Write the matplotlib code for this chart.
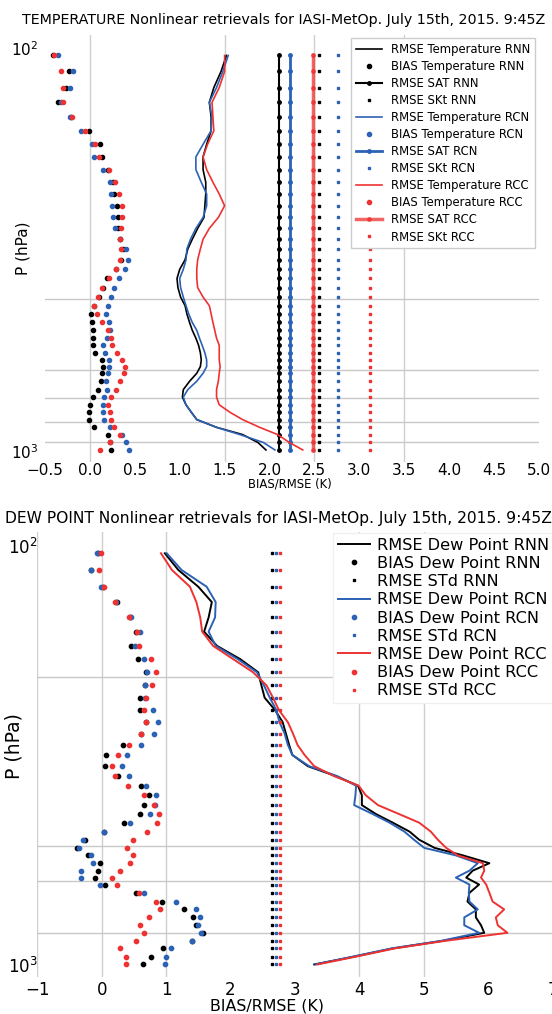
import matplotlib
matplotlib.use('Agg')
import matplotlib.pyplot as plt
from matplotlib.ticker import NullFormatter

BLUE = '#2c62b5'
RED = '#ee3232'

# pressure levels (hPa), shared by both panels
pressure = [104, 114, 125, 136, 148, 160, 173, 186, 200, 215, 230, 246, 263, 280,
            298, 315, 335, 354, 373, 393, 415, 436, 457, 480, 502, 525, 547, 571,
            595, 618, 642, 672, 705, 736, 769, 803, 837, 875, 912, 954, 996]

# ---- temperature panel ----
rmse_t_rnn = [1.52, 1.46, 1.38, 1.33, 1.35, 1.35, 1.30, 1.26, 1.26, 1.29, 1.29, 1.28, 1.27, 1.20,
              1.14, 1.09, 1.06, 1.00, 0.97, 0.98, 1.01, 1.06, 1.08, 1.11, 1.14, 1.18, 1.21, 1.23,
              1.24, 1.23, 1.19, 1.11, 1.04, 1.03, 1.07, 1.13, 1.19, 1.41, 1.70, 1.87, 1.96]
rmse_t_rcn = [1.54, 1.48, 1.41, 1.33, 1.36, 1.35, 1.26, 1.18, 1.18, 1.24, 1.30, 1.30, 1.26, 1.18,
              1.12, 1.08, 1.07, 1.04, 1.00, 1.01, 1.04, 1.07, 1.10, 1.14, 1.19, 1.22, 1.25, 1.28,
              1.30, 1.30, 1.26, 1.19, 1.09, 1.04, 1.07, 1.13, 1.19, 1.41, 1.67, 1.93, 2.06]
rmse_t_rcc = [1.50, 1.50, 1.44, 1.36, 1.37, 1.38, 1.31, 1.26, 1.30, 1.37, 1.44, 1.50, 1.43, 1.33,
              1.26, 1.23, 1.20, 1.19, 1.19, 1.20, 1.26, 1.33, 1.35, 1.37, 1.39, 1.41, 1.44, 1.44,
              1.44, 1.45, 1.44, 1.43, 1.41, 1.41, 1.44, 1.56, 1.70, 1.89, 2.09, 2.22, 2.37]
bias_t_rnn = [-0.41, -0.23, -0.27, -0.35, -0.21, -0.01, 0.11, 0.14, 0.20, 0.26, 0.27, 0.30, 0.31, 0.31,
              0.34, 0.37, 0.35, 0.29, 0.19, 0.15, 0.10, 0.05, 0.01, 0.02, 0.04, 0.04, 0.03, 0.06,
              0.13, 0.15, 0.14, 0.12, 0.09, 0.03, 0.00, -0.01, -0.01, 0.05, 0.20, 0.22, 0.24]
bias_t_rcn = [-0.36, -0.19, -0.22, -0.32, -0.22, -0.10, 0.02, 0.05, 0.15, 0.22, 0.23, 0.25, 0.26, 0.28,
              0.33, 0.40, 0.42, 0.39, 0.32, 0.27, 0.24, 0.20, 0.18, 0.21, 0.22, 0.19, 0.15, 0.17,
              0.21, 0.21, 0.20, 0.18, 0.19, 0.16, 0.15, 0.15, 0.16, 0.22, 0.36, 0.40, 0.44]
bias_t_rcc = [-0.40, -0.32, -0.30, -0.30, -0.20, -0.05, 0.06, 0.10, 0.21, 0.28, 0.32, 0.36, 0.36, 0.35,
              0.34, 0.35, 0.33, 0.29, 0.21, 0.14, 0.09, 0.05, 0.08, 0.13, 0.20, 0.23, 0.25, 0.30,
              0.36, 0.39, 0.38, 0.34, 0.29, 0.23, 0.20, 0.22, 0.23, 0.27, 0.33, 0.22, 0.11]
sat_rnn, sat_rcn, sat_rcc = 2.10, 2.23, 2.48
skt_rnn, skt_rcn, skt_rcc = 2.55, 2.76, 3.12

# ---- dew point panel ----
rmse_d_rnn = [0.98, 1.19, 1.50, 1.71, 1.66, 1.59, 1.79, 2.15, 2.43, 2.48, 2.53, 2.69, 2.81, 2.86,
              2.91, 2.96, 3.20, 3.64, 3.98, 4.04, 4.04, 4.26, 4.52, 4.78, 4.93, 5.17, 5.61, 6.02,
              5.76, 5.66, 5.86, 5.71, 5.68, 5.81, 5.81, 5.89, 5.94, 5.29, 4.52, 3.92, 3.30]
rmse_d_rcn = [1.01, 1.24, 1.63, 1.77, 1.76, 1.66, 1.77, 2.11, 2.41, 2.52, 2.61, 2.71, 2.76, 2.84,
              2.89, 2.96, 3.22, 3.66, 3.95, 3.94, 3.92, 4.21, 4.47, 4.70, 4.85, 5.01, 5.50, 5.84,
              5.71, 5.50, 5.71, 5.70, 5.71, 5.84, 5.63, 5.63, 5.86, 5.27, 4.50, 3.90, 3.32]
rmse_d_rcc = [0.92, 1.09, 1.37, 1.47, 1.53, 1.56, 1.73, 2.04, 2.35, 2.56, 2.66, 2.75, 2.89, 2.97,
              3.04, 3.15, 3.30, 3.61, 3.99, 4.10, 4.29, 4.62, 4.93, 5.11, 5.22, 5.35, 5.53, 5.92,
              5.94, 5.89, 5.97, 6.02, 6.07, 6.25, 6.12, 6.15, 6.30, 5.33, 4.55, 3.95, 3.35]
bias_d_rnn = [-0.05, -0.16, 0.02, 0.24, 0.44, 0.53, 0.45, 0.56, 0.69, 0.67, 0.59, 0.59, 0.68, 0.61,
              0.33, 0.06, 0.05, 0.26, 0.61, 0.74, 0.65, 0.59, 0.35, 0.03, -0.26, -0.39, -0.22, -0.02,
              -0.06, -0.10, 0.05, 0.54, 0.94, 1.28, 1.42, 1.47, 1.57, 1.40, 0.95, 0.77, 0.64]
bias_d_rcn = [-0.08, -0.17, -0.01, 0.22, 0.45, 0.59, 0.52, 0.66, 0.71, 0.67, 0.67, 0.79, 0.87, 0.81,
              0.61, 0.39, 0.32, 0.42, 0.68, 0.85, 0.83, 0.75, 0.44, 0.03, -0.29, -0.35, -0.17, -0.14,
              -0.32, -0.32, -0.03, 0.66, 1.15, 1.46, 1.52, 1.49, 1.54, 1.40, 1.07, 1.00, 0.99]
bias_d_rcc = [-0.01, -0.04, 0.04, 0.21, 0.43, 0.55, 0.58, 0.77, 0.85, 0.78, 0.69, 0.66, 0.68, 0.61,
              0.43, 0.26, 0.16, 0.20, 0.41, 0.66, 0.81, 0.89, 0.86, 0.70, 0.48, 0.40, 0.48, 0.44,
              0.28, 0.16, 0.23, 0.58, 0.84, 0.90, 0.73, 0.59, 0.66, 0.54, 0.29, 0.38, 0.38]
std_rnn, std_rcn, std_rcc = 2.64, 2.71, 2.77

n = len(pressure)

fig = plt.figure(figsize=(5.52, 10.14), dpi=100)
ax1 = fig.add_axes([0.0815, 0.5444, 0.8949, 0.4211])
ax2 = fig.add_axes([0.0676, 0.0365, 0.9333, 0.4389])

# temperature
for name, col, rmse, bias, sat, skt, satw, sata in [
        ('RNN', 'k', rmse_t_rnn, bias_t_rnn, sat_rnn, skt_rnn, 1.5, 1.0),
        ('RCN', BLUE, rmse_t_rcn, bias_t_rcn, sat_rcn, skt_rcn, 2.0, 1.0),
        ('RCC', RED, rmse_t_rcc, bias_t_rcc, sat_rcc, skt_rcc, 2.5, 0.75)]:
    ax1.plot(rmse, pressure, color=col, lw=1.2, label='RMSE Temperature ' + name)
    ax1.plot(bias, pressure, 'o', color=col, ms=3, label='BIAS Temperature ' + name)
    ax1.plot([sat] * n, pressure, '.-', color=col, lw=satw, ms=5, alpha=sata, label='RMSE SAT ' + name)
    ax1.plot([skt] * n, pressure, 's', color=col, ms=1.8, label='RMSE SKt ' + name)

ax1.set_xlim(-0.5, 5.0)
ax1.set_xticks([-0.5, 0.0, 0.5, 1.0, 1.5, 2.0, 2.5, 3.0, 3.5, 4.0, 4.5, 5.0])
ax1.legend(loc='upper right', bbox_to_anchor=(0.992, 0.993), borderaxespad=0, fontsize=8.4,
           handlelength=2.2, labelspacing=0.35, fancybox=False, edgecolor='#cccccc', framealpha=1)
fig.text(0.5145, 0.980, 'TEMPERATURE Nonlinear retrievals for IASI-MetOp. July 15th, 2015. 9:45Z',
         ha='center', va='center', fontsize=10.3)
ax1.set_xlabel('BIAS/RMSE (K)', fontsize=8.4)
ax1.xaxis.set_label_coords(0.496, -0.0375)
ax1.set_ylabel('P (hPa)', fontsize=11)
ax1.yaxis.set_label_coords(-0.030, 0.501)
ax1.tick_params(axis='x', labelsize=11, pad=1)
ax1.tick_params(axis='y', labelsize=11, pad=5)
xgrid1 = [0.0, 1.5, 2.5, 3.5]
ygrid1 = [420, 630, 740, 850, 950]

# dew point
for name, col, rmse, bias, std in [
        ('RNN', 'k', rmse_d_rnn, bias_d_rnn, std_rnn),
        ('RCN', BLUE, rmse_d_rcn, bias_d_rcn, std_rcn),
        ('RCC', RED, rmse_d_rcc, bias_d_rcc, std_rcc)]:
    ax2.plot(rmse, pressure, color=col, lw=1.4, label='RMSE Dew Point ' + name)
    ax2.plot(bias, pressure, 'o', color=col, ms=3.1, label='BIAS Dew Point ' + name)
    ax2.plot([std] * n, pressure, 's', color=col, ms=1.7, label='RMSE STd ' + name)

ax2.set_xlim(-1, 7)
ax2.set_xticks(range(-1, 8))
ax2.legend(loc='upper left', bbox_to_anchor=(0.574, 0.998), borderaxespad=0, fontsize=11.6,
           handlelength=2.0, handletextpad=0.4, labelspacing=0.2, fancybox=False,
           edgecolor='#f0f0f0', framealpha=1, borderpad=0.3)
fig.text(0.505, 0.489, 'DEW POINT Nonlinear retrievals for IASI-MetOp. July 15th, 2015. 9:45Z',
         ha='center', va='center', fontsize=11.2)
ax2.set_xlabel('BIAS/RMSE (K)', fontsize=11.4)
ax2.xaxis.set_label_coords(0.446, -0.049)
ax2.set_ylabel('P (hPa)', fontsize=13.5)
ax2.yaxis.set_label_coords(-0.026, 0.519)
ax2.tick_params(axis='x', labelsize=12, pad=3)
ax2.tick_params(axis='y', labelsize=12, pad=0)
xgrid2 = [-1, 0, 1, 4, 5]
ygrid2 = [205, 520, 630, 840]

for ax, xg, yg in [(ax1, xgrid1, ygrid1), (ax2, xgrid2, ygrid2)]:
    ax.set_yscale('log')
    ax.set_ylim(1067, 92.5)
    ax.set_yticks(yg, minor=True)
    ax.yaxis.set_minor_formatter(NullFormatter())
    ax.tick_params(which='both', length=0)
    ax.grid(axis='x', color='#cfcfcf', lw=1)
    ax.grid(axis='y', which='minor', color='#c8c8c8', lw=1)
    for val, gl in zip(ax.get_xticks(), ax.get_xgridlines()):
        gl.set_visible(any(abs(val - g) < 1e-6 for g in xg))
    ax.set_axisbelow(True)
    for s in ax.spines.values():
        s.set_visible(False)

fig.savefig('out.png', dpi=100)
